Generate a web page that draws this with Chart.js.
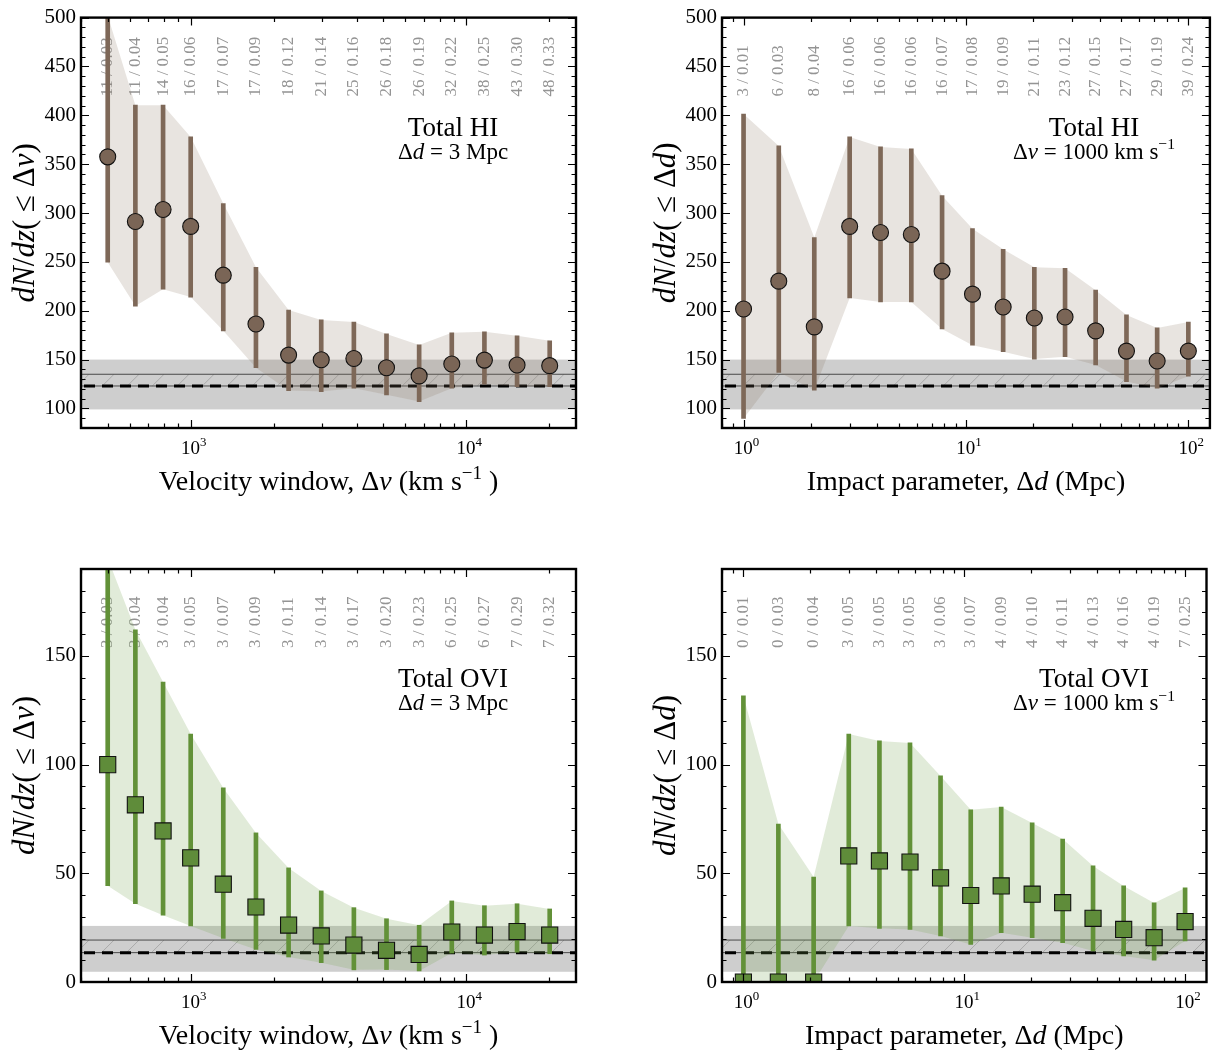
<!DOCTYPE html>
<html>
<head>
<meta charset="utf-8">
<script src="https://cdn.jsdelivr.net/npm/chart.js@4.4.1/dist/chart.umd.min.js"></script>
<style>
  html, body { margin: 0; padding: 0; background: #fff; }
  #wrap { position: relative; width: 1219px; height: 1050px; overflow: hidden; }
  #wrap canvas { position: absolute; }
</style>
</head>
<body>
<div id="wrap">
  <canvas id="pHIv"></canvas>
  <canvas id="pHId"></canvas>
  <canvas id="pOVIv"></canvas>
  <canvas id="pOVId"></canvas>
</div>
<script>
// ---- bins ----
const velWindows   = [500, 630, 794, 1000, 1313, 1725, 2266, 2976, 3909, 5134, 6743, 8857, 11633, 15279, 20068]; // km/s
const impactParams = [1, 1.44, 2.08, 3, 4.13, 5.68, 7.81, 10.7, 14.7, 20.3, 27.9, 38.3, 52.7, 72.4, 100];   // Mpc

// ---- HI, cumulative dN/dz vs velocity window (Δd = 3 Mpc) ----
const hiVelValue = [357.5, 291.3, 303.6, 286.3, 236.4, 186.5, 154.6, 149.9, 151.2, 141.7, 133.3, 145.5, 149.5, 144.5, 143.8];
const hiVelLow   = [249.6, 204.8, 222.0, 214.0, 179.4, 141.7, 118.3, 117.3, 120.7, 113.9, 107.0, 120.7, 124.8, 122.4, 122.4];
const hiVelHigh  = [502.0, 410.4, 410.4, 377.9, 309.7, 244.5, 200.8, 190.6, 188.5, 176.3, 165.0, 177.4, 178.4, 174.3, 169.2];
const hiVelNotes = ["11 / 0.03", "11 / 0.04", "14 / 0.05", "16 / 0.06", "17 / 0.07", "17 / 0.09", "18 / 0.12", "21 / 0.14",
                    "25 / 0.16", "26 / 0.18", "26 / 0.19", "32 / 0.22", "38 / 0.25", "43 / 0.30", "48 / 0.33"];

// ---- HI, cumulative dN/dz vs impact parameter (Δv = 1000 km/s) ----
const hiImpValue = [201.8, 230.3, 183.5, 286.3, 280.0, 278.0, 240.5, 217.0, 203.8, 192.6, 193.6, 179.4, 158.7, 148.5, 158.7];
const hiImpLow   = [89.8, 137.0, 118.6, 213.0, 209.0, 209.0, 181.4, 164.8, 158.0, 150.5, 152.9, 144.5, 127.5, 120.7, 133.0];
const hiImpHigh  = [401.3, 368.7, 275.0, 377.9, 367.7, 365.6, 317.8, 284.0, 262.9, 244.5, 243.5, 221.1, 195.7, 182.4, 188.5];
const hiImpNotes = ["3 / 0.01", "6 / 0.03", "8 / 0.04", "16 / 0.06", "16 / 0.06", "16 / 0.06", "16 / 0.07", "17 / 0.08",
                    "19 / 0.09", "21 / 0.11", "23 / 0.12", "27 / 0.15", "27 / 0.17", "29 / 0.19", "39 / 0.24"];

// ---- OVI, cumulative dN/dz vs velocity window (Δd = 3 Mpc) ----
const oviVelValue = [100.0, 81.5, 69.5, 57.1, 45.0, 34.5, 26.2, 21.2, 17.0, 14.6, 12.7, 23.0, 21.6, 23.2, 21.6];
const oviVelLow   = [44.3, 36.0, 30.7, 25.8, 20.1, 15.0, 11.5, 8.9, 5.6, 5.7, 5.1, 13.3, 12.4, 13.7, 13.0];
const oviVelHigh  = [195.0, 162.0, 138.0, 114.1, 89.3, 68.6, 52.5, 41.9, 34.2, 29.1, 26.1, 37.3, 35.1, 36.0, 33.6];
const oviVelNotes = ["3 / 0.03", "3 / 0.04", "3 / 0.04", "3 / 0.05", "3 / 0.07", "3 / 0.09", "3 / 0.11", "3 / 0.14",
                     "3 / 0.17", "3 / 0.20", "3 / 0.23", "6 / 0.25", "6 / 0.27", "7 / 0.29", "7 / 0.32"];

// ---- OVI, cumulative dN/dz vs impact parameter (Δv = 1000 km/s) ----
const oviImpValue = [0, 0, 0, 58.0, 55.7, 55.2, 47.9, 39.8, 44.2, 40.4, 36.5, 29.3, 24.2, 20.4, 27.8];
const oviImpLow   = [0, 0, 0, 25.8, 24.7, 24.2, 21.2, 17.3, 22.7, 20.4, 18.1, 14.3, 12.0, 10.0, 18.9];
const oviImpHigh  = [131.6, 72.7, 48.3, 114.1, 110.9, 110.0, 94.8, 79.2, 80.5, 73.2, 65.8, 53.4, 44.2, 36.4, 43.3];
const oviImpNotes = ["0 / 0.01", "0 / 0.03", "0 / 0.04", "3 / 0.05", "3 / 0.05", "3 / 0.05", "3 / 0.06", "3 / 0.07",
                     "4 / 0.09", "4 / 0.10", "4 / 0.11", "4 / 0.13", "4 / 0.16", "4 / 0.19", "7 / 0.25"];

// ---- random-sightline reference level: shaded range, mean line, dashed line ----
const hiRefBand  = [99, 150];
const hiRefLines = [135, 123];
const oviRefBand  = [4.7, 25.8];
const oviRefLines = [19.3, 13.5];

// ---- axis ranges ----
const velRange = [400, 25000];
const impRange = [0.8, 125];
const hiRange  = [80, 500];
const oviRange = [0, 190];

const SERIF = '"Liberation Serif", "Times New Roman", serif';

// draw a run of text pieces (upright / italic / superscript) on one baseline
function richWidth(ctx, segs, size) {
  let w = 0;
  segs.forEach(s => {
    const fs = s.sup ? size * 0.68 : size;
    ctx.font = (s.it ? 'italic ' : '') + fs + 'px ' + SERIF;
    w += ctx.measureText(s.t).width;
  });
  return w;
}
function drawRich(ctx, segs, x, y, size, align) {
  const total = richWidth(ctx, segs, size);
  let cx = align === 'center' ? x - total / 2 : x;
  ctx.textAlign = 'left';
  segs.forEach(s => {
    const fs = s.sup ? size * 0.68 : size;
    ctx.font = (s.it ? 'italic ' : '') + fs + 'px ' + SERIF;
    ctx.fillText(s.t, cx, y - (s.sup ? size * 0.4 : 0));
    cx += ctx.measureText(s.t).width;
  });
}

const titleVel = [{ t: 'Velocity window, Δ' }, { t: 'v', it: 1 }, { t: ' (km s' }, { t: '−1', sup: 1 }, { t: ' )' }];
const titleImp = [{ t: 'Impact parameter, Δ' }, { t: 'd', it: 1 }, { t: ' (Mpc)' }];
const yTitleVel = [{ t: 'dN', it: 1 }, { t: '/' }, { t: 'dz', it: 1 }, { t: '( ≤ Δ' }, { t: 'v', it: 1 }, { t: ')' }];
const yTitleImp = [{ t: 'dN', it: 1 }, { t: '/' }, { t: 'dz', it: 1 }, { t: '( ≤ Δ' }, { t: 'd', it: 1 }, { t: ')' }];
const subVel = [{ t: 'Δ' }, { t: 'd', it: 1 }, { t: ' = 3 Mpc' }];
const subImp = [{ t: 'Δ' }, { t: 'v', it: 1 }, { t: ' = 1000 km s' }, { t: '−1', sup: 1 }];

function decorations(p) {
  return {
    id: 'decor_' + p.id,
    beforeDatasetsDraw(chart) {
      const { ctx, chartArea: a, scales: { x, y } } = chart;
      ctx.save();
      ctx.beginPath(); ctx.rect(a.left, a.top, a.width, a.height); ctx.clip();
      // shaded reference range
      const yb1 = y.getPixelForValue(p.refBand[1]);
      const yb0 = y.getPixelForValue(p.refBand[0]);
      ctx.fillStyle = 'rgba(150,150,150,0.47)';
      ctx.fillRect(a.left, yb1, a.width, yb0 - yb1);
      // hatching between mean and dashed level
      const ys = y.getPixelForValue(p.refLines[0]);
      const yd = y.getPixelForValue(p.refLines[1]);
      const h = yd - ys;
      ctx.strokeStyle = 'rgba(110,110,110,0.55)';
      ctx.lineWidth = 0.7;
      for (let px = a.left - h + 8; px < a.right; px += 25) {
        ctx.beginPath(); ctx.moveTo(px, yd); ctx.lineTo(px + h, ys); ctx.stroke();
      }
      ctx.strokeStyle = '#4a4a4a';
      ctx.lineWidth = 1;
      [ys, yd].forEach(py => { ctx.beginPath(); ctx.moveTo(a.left, py); ctx.lineTo(a.right, py); ctx.stroke(); });
      ctx.strokeStyle = '#000';
      ctx.lineWidth = 3;
      ctx.setLineDash([11, 7]);
      ctx.beginPath(); ctx.moveTo(a.left + 3, yd); ctx.lineTo(a.right, yd); ctx.stroke();
      ctx.setLineDash([]);
      ctx.restore();

      // rotated sample notes above each bin
      ctx.save();
      ctx.fillStyle = '#949494';
      ctx.font = '17px ' + SERIF;
      ctx.textAlign = 'left';
      ctx.textBaseline = 'middle';
      p.xs.forEach((v, i) => {
        const px = x.getPixelForValue(v);
        ctx.save();
        ctx.translate(px, a.top + 79);
        ctx.rotate(-Math.PI / 2);
        ctx.fillText(p.notes[i], 0, 0);
        ctx.restore();
      });
      ctx.restore();
    },
    afterDatasetsDraw(chart) {
      const { ctx, chartArea: a, scales: { x, y } } = chart;
      ctx.save();
      ctx.strokeStyle = '#000';
      ctx.lineWidth = 1.2;
      // y ticks, inward, both sides
      for (let v = Math.ceil(y.min / 10) * 10; v <= y.max + 1e-9; v += 10) {
        const py = Math.round(y.getPixelForValue(v)) + 0.5;
        const L = v % p.yMajor === 0 ? 8 : 4.5;
        ctx.beginPath();
        ctx.moveTo(a.left, py); ctx.lineTo(a.left + L, py);
        ctx.moveTo(a.right, py); ctx.lineTo(a.right - L, py);
        ctx.stroke();
      }
      // x ticks (log decades + minors), inward, both sides
      for (let e = Math.floor(Math.log10(x.min)); e <= Math.ceil(Math.log10(x.max)); e++) {
        for (let k = 1; k <= 9; k++) {
          const v = k * Math.pow(10, e);
          if (v < x.min || v > x.max) continue;
          const px = Math.round(x.getPixelForValue(v)) + 0.5;
          const L = k === 1 ? 8 : 4.5;
          ctx.beginPath();
          ctx.moveTo(px, a.bottom); ctx.lineTo(px, a.bottom - L);
          ctx.moveTo(px, a.top); ctx.lineTo(px, a.top + L);
          ctx.stroke();
        }
      }
      // frame
      ctx.lineWidth = 2.4;
      ctx.strokeRect(a.left, a.top, a.width, a.height);

      // inset label
      ctx.fillStyle = '#000';
      ctx.textBaseline = 'alphabetic';
      const cx = a.left + 372;
      drawRich(ctx, [{ t: p.species }], cx, a.top + 118, 27, 'center');
      drawRich(ctx, p.sub, cx, a.top + 141, 23, 'center');
      ctx.restore();
    },
    afterDraw(chart) {
      const { ctx, chartArea: a, scales: { x } } = chart;
      ctx.save();
      ctx.fillStyle = '#000';
      ctx.textBaseline = 'alphabetic';
      // decade labels 10^n under the log axis
      x.ticks.forEach(t => {
        const n = Math.round(Math.log10(t.value));
        drawRich(ctx, [{ t: '10' }, { t: String(n), sup: 1 }], x.getPixelForValue(t.value) + 3, a.bottom + 26, 19, 'center');
      });
      drawRich(ctx, p.xTitle, (a.left + a.right) / 2, a.bottom + 62, 28, 'center');
      ctx.translate(a.left - 55, (a.top + a.bottom) / 2);
      ctx.rotate(-Math.PI / 2);
      ctx.textBaseline = 'middle';
      drawRich(ctx, p.yTitle, 0, 0, 31, 'center');
      ctx.restore();
    }
  };
}

const brown = { bar: 'rgb(126,104,88)', fill: 'rgb(122,101,86)', band: 'rgba(140,118,98,0.2)', style: 'circle', r: 8 };
const green = { bar: 'rgb(98,145,56)', fill: 'rgb(95,140,58)', band: 'rgba(120,165,82,0.22)', style: 'rect', r: 11.4 };

const panels = [
  { id: 'pHIv', left: 0, top: 0, w: 609, h: 525, yAxisW: 81, padTop: 14, padRight: 33, xAxisH: 97,
    xs: velWindows, val: hiVelValue, lo: hiVelLow, hi: hiVelHigh, notes: hiVelNotes,
    xRange: velRange, yRange: hiRange, yMajor: 50, refBand: hiRefBand, refLines: hiRefLines,
    look: brown, species: 'Total HI', sub: subVel, xTitle: titleVel, yTitle: yTitleVel },
  { id: 'pHId', left: 609, top: 0, w: 610, h: 525, yAxisW: 113, padTop: 14, padRight: 2, xAxisH: 97,
    xs: impactParams, val: hiImpValue, lo: hiImpLow, hi: hiImpHigh, notes: hiImpNotes,
    xRange: impRange, yRange: hiRange, yMajor: 50, refBand: hiRefBand, refLines: hiRefLines,
    look: brown, species: 'Total HI', sub: subImp, xTitle: titleImp, yTitle: yTitleImp },
  { id: 'pOVIv', left: 0, top: 525, w: 609, h: 525, yAxisW: 81, padTop: 44, padRight: 33, xAxisH: 68,
    xs: velWindows, val: oviVelValue, lo: oviVelLow, hi: oviVelHigh, notes: oviVelNotes,
    xRange: velRange, yRange: oviRange, yMajor: 50, refBand: oviRefBand, refLines: oviRefLines,
    look: green, species: 'Total OVI', sub: subVel, xTitle: titleVel, yTitle: yTitleVel },
  { id: 'pOVId', left: 609, top: 525, w: 610, h: 525, yAxisW: 113, padTop: 44, padRight: 2, xAxisH: 68,
    xs: impactParams, val: oviImpValue, lo: oviImpLow, hi: oviImpHigh, notes: oviImpNotes,
    xRange: impRange, yRange: oviRange, yMajor: 50, refBand: oviRefBand, refLines: oviRefLines,
    look: green, species: 'Total OVI', sub: subImp, xTitle: titleImp, yTitle: yTitleImp }
];

panels.forEach(p => {
  const cv = document.getElementById(p.id);
  cv.width = p.w; cv.height = p.h;
  cv.style.left = p.left + 'px'; cv.style.top = p.top + 'px';
  cv.style.width = p.w + 'px'; cv.style.height = p.h + 'px';

  const pts = (arr) => p.xs.map((x, i) => ({ x, y: arr[i] }));

  new Chart(cv, {
    type: 'line',
    data: {
      datasets: [
        { // upper edge of the shaded uncertainty envelope
          type: 'line', data: pts(p.hi), pointRadius: 0, borderWidth: 0, borderColor: 'rgba(0,0,0,0)',
          backgroundColor: p.look.band, fill: '+1', tension: 0, order: 3, clip: 0 },
        { // lower edge
          type: 'line', data: pts(p.lo), pointRadius: 0, borderWidth: 0, borderColor: 'rgba(0,0,0,0)',
          fill: false, tension: 0, order: 3, clip: 0 },
        { // error bars as floating bars
          type: 'bar', data: p.xs.map((x, i) => ({ x, y: [p.lo[i], p.hi[i]] })),
          backgroundColor: p.look.bar, borderWidth: 0, barThickness: 4, order: 2, clip: 0 },
        { // measured values
          type: 'line', data: pts(p.val), showLine: false, pointStyle: p.look.style,
          pointRadius: p.look.r, pointBackgroundColor: p.look.fill, pointBorderColor: '#111',
          pointBorderWidth: 1.1, order: 1, clip: 0 }
      ]
    },
    options: {
      responsive: false,
      devicePixelRatio: 1,
      animation: false,
      events: [],
      layout: { padding: { top: p.padTop, right: p.padRight, left: 0, bottom: 0 } },
      plugins: { legend: { display: false }, tooltip: { enabled: false } },
      scales: {
        x: {
          type: 'logarithmic', min: p.xRange[0], max: p.xRange[1], offset: false,
          grid: { display: false, drawTicks: false }, border: { display: false },
          afterFit: (s) => { s.height = p.xAxisH; },
          afterBuildTicks: (s) => {
            const t = [];
            for (let e = -3; e <= 6; e++) {
              const v = Math.pow(10, e);
              if (v >= s.min && v <= s.max) t.push({ value: v });
            }
            s.ticks = t;
          },
          ticks: { display: false, autoSkip: false }
        },
        y: {
          type: 'linear', min: p.yRange[0], max: p.yRange[1],
          grid: { display: false, drawTicks: false }, border: { display: false },
          afterFit: (s) => { s.width = p.yAxisW; },
          afterBuildTicks: (s) => {
            const t = [];
            for (let v = Math.ceil(s.min / p.yMajor) * p.yMajor; v <= s.max; v += p.yMajor) t.push({ value: v });
            s.ticks = t;
          },
          ticks: { padding: 5, color: '#000', font: { family: SERIF, size: 21 } }
        }
      }
    },
    plugins: [decorations(p)]
  });
});
</script>
</body>
</html>
